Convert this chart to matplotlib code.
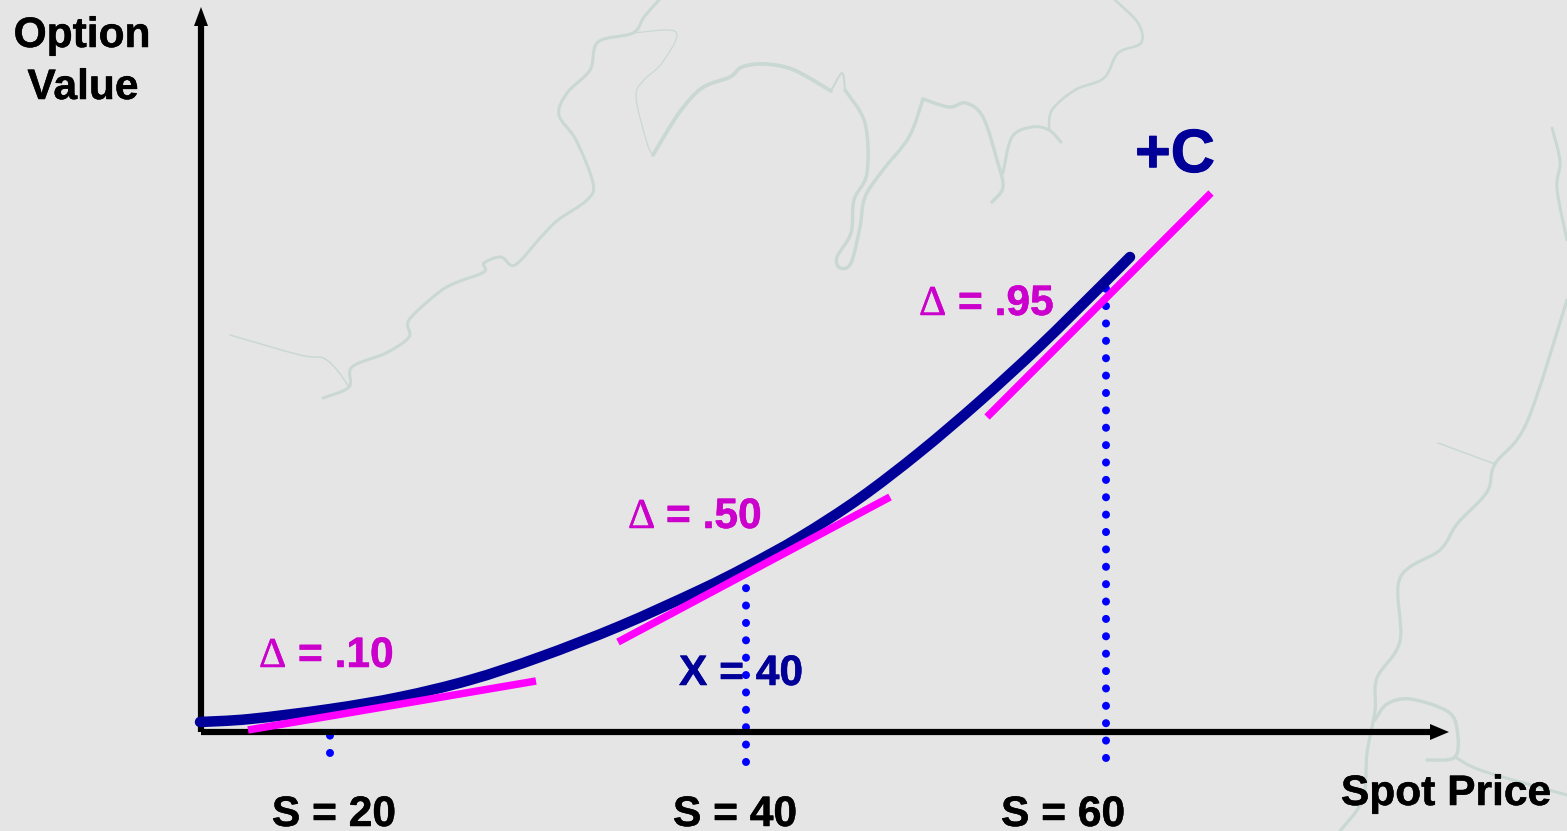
import matplotlib
matplotlib.use("Agg")
import matplotlib.pyplot as plt
import matplotlib.patheffects as pe
from matplotlib.path import Path
from matplotlib.patches import PathPatch

W, H = 1567, 831
BG = "#E5E5E5"
NAVY = "#000099"
MAGENTA = "#FF00FF"
MAG_TEXT = "#CC00CC"
BLUE = "#0000FF"
RIVER = "#C9D8D2"
SANS = "Liberation Sans"

# option value curve
curve_spot = [200, 250, 330, 400, 470, 540, 620, 700, 746, 800, 860, 920, 980, 1040, 1100, 1130]
curve_value = [722, 719, 709, 697, 680, 657, 626, 590, 567, 537, 498, 452, 401, 346, 287, 257]

# tangents
tangent_x = [[248, 536], [618, 890], [987, 1211]]
tangent_y = [[730, 681], [642, 497], [417, 193]]

# dotted guides
guide_x = [330, 746, 1106]
guide_top = [719, 581, 287]
guide_bottom = [753, 762, 758]

# text
delta_labels = ["= .10", "= .50", "= .95"]
delta_sym_x = [259, 628, 919]
delta_text_x = [298, 666, 958]
delta_base = [667, 528, 315]
spot_labels = ["S = 20", "S = 40", "S = 60"]
spot_label_x = [334, 735, 1063]

# faint background map lines
rivers = [
    ([659, 644, 633, 598, 590, 567, 559, 576, 593, 587, 558, 541, 515, 501, 484, 484, 455, 438, 409, 409, 386, 352, 349, 323],
     [0, 17, 33, 42, 70, 93, 115, 140, 183, 200, 220, 237, 265, 257, 263, 272, 283, 293, 320, 337, 353, 367, 387, 398], 3.0),
    ([230, 300, 323, 337, 349], [335, 355, 358, 370, 387], 1.5),
    ([633, 676, 662, 644, 636, 647, 653], [33, 32, 63, 80, 97, 143, 155], 1.2),
    ([653, 679, 702, 730, 742, 765, 794, 831], [155, 113, 88, 77, 67, 64, 70, 91], 3.8),
    ([831, 842, 845], [91, 73, 90], 2.0),
    ([845, 865, 867, 854, 851, 837, 840, 851, 860, 865, 883, 909, 923], [90, 123, 173, 200, 233, 257, 268, 263, 227, 197, 170, 137, 99], 3.4),
    ([923, 949, 966, 983, 997, 1003, 992], [99, 107, 103, 117, 160, 187, 202], 3.4),
    ([1003, 1012, 1032, 1049, 1061], [173, 137, 127, 130, 142], 3.0),
    ([1049, 1052, 1075, 1104, 1118, 1141, 1138, 1115], [130, 110, 90, 78, 53, 43, 23, 0], 2.6),
    ([1567, 1527, 1495, 1487, 1457, 1440, 1400, 1400, 1377, 1375, 1367, 1363, 1340],
     [300, 422, 464, 492, 524, 550, 578, 641, 678, 711, 753, 799, 831], 3.2),
    ([1375, 1387, 1410, 1447, 1457, 1455, 1427], [720, 704, 699, 711, 729, 757, 760], 3.4),
    ([1455, 1483, 1567], [757, 771, 795], 3.0),
    ([1438, 1495], [443, 464], 1.5),
    ([1552, 1560, 1557, 1567], [128, 161, 189, 240], 3.0),
]

fig = plt.figure(figsize=(W / 100, H / 100), dpi=100, facecolor=BG)
ax = fig.add_axes([0, 0, 1, 1])
ax.set_xlim(0, W)
ax.set_ylim(H, 0)
ax.axis("off")

px = 72 / 100  # points per pixel


def smooth_line(xs, ys, color, lw, zorder, cap="round"):
    """Stroke through the read points with Bezier segments."""
    pts = list(zip(xs, ys))
    verts = [pts[0]]
    codes = [Path.MOVETO]
    for i in range(len(pts) - 1):
        p0 = pts[max(i - 1, 0)]
        p1 = pts[i]
        p2 = pts[i + 1]
        p3 = pts[min(i + 2, len(pts) - 1)]
        c1 = (p1[0] + (p2[0] - p0[0]) / 6, p1[1] + (p2[1] - p0[1]) / 6)
        c2 = (p2[0] - (p3[0] - p1[0]) / 6, p2[1] - (p3[1] - p1[1]) / 6)
        verts += [c1, c2, p2]
        codes += [Path.CURVE4] * 3
    ax.add_patch(PathPatch(Path(verts, codes), fill=False, edgecolor=color, lw=lw,
                           capstyle=cap, joinstyle="round", zorder=zorder))


for xs, ys, w in rivers:
    smooth_line(xs, ys, RIVER, w * px, 1)

# dotted guides
dot = 8 * px
for x, t, b in zip(guide_x, guide_top, guide_bottom):
    ax.plot([x, x], [b, t], color=BLUE, lw=dot, dash_capstyle="round",
            ls=(0, (0.01, 17.3 / 8)), zorder=2)

# axes with arrowheads
ax.plot([201, 201], [732, 20], color="black", lw=6.2 * px, solid_capstyle="butt", zorder=3)
ax.plot([201, 1436], [732, 732], color="black", lw=6.2 * px, solid_capstyle="butt", zorder=3)
ax.fill([201, 194, 208], [7, 26, 26], color="black", lw=0, zorder=3)
ax.fill([1449, 1430, 1430], [732, 724, 740], color="black", lw=0, zorder=3)

# curve then tangents
smooth_line(curve_spot, curve_value, NAVY, 10.5 * px, 4)
for xs, ys in zip(tangent_x, tangent_y):
    ax.plot(xs, ys, color=MAGENTA, lw=7.5 * px, solid_capstyle="butt", zorder=5)


# labels
def label(x, y, s, color="black", size=30.6, ha="center", family=SANS, weight="bold", stroke=0.5):
    t = ax.text(x, y, s, color=color, fontsize=size, ha=ha, va="baseline",
                family=family, fontweight=weight, zorder=6)
    t.set_path_effects([pe.withStroke(linewidth=stroke * px, foreground=color)])


label(82, 47, "Option")
label(83, 99, "Value")
label(1446, 805, "Spot Price")
label(1175, 172, "+C", color=NAVY, size=44, stroke=1.0)
label(741, 685, "X = 40", color=NAVY)
for lab, x in zip(spot_labels, spot_label_x):
    label(x, 826, lab)
for lab, sx, tx, y in zip(delta_labels, delta_sym_x, delta_text_x, delta_base):
    label(sx, y, "\u0394", color=MAG_TEXT, ha="left", family="Liberation Serif", weight="normal")
    label(tx, y, lab, color=MAG_TEXT, ha="left")

fig.savefig("out.png", dpi=100, facecolor=BG)
